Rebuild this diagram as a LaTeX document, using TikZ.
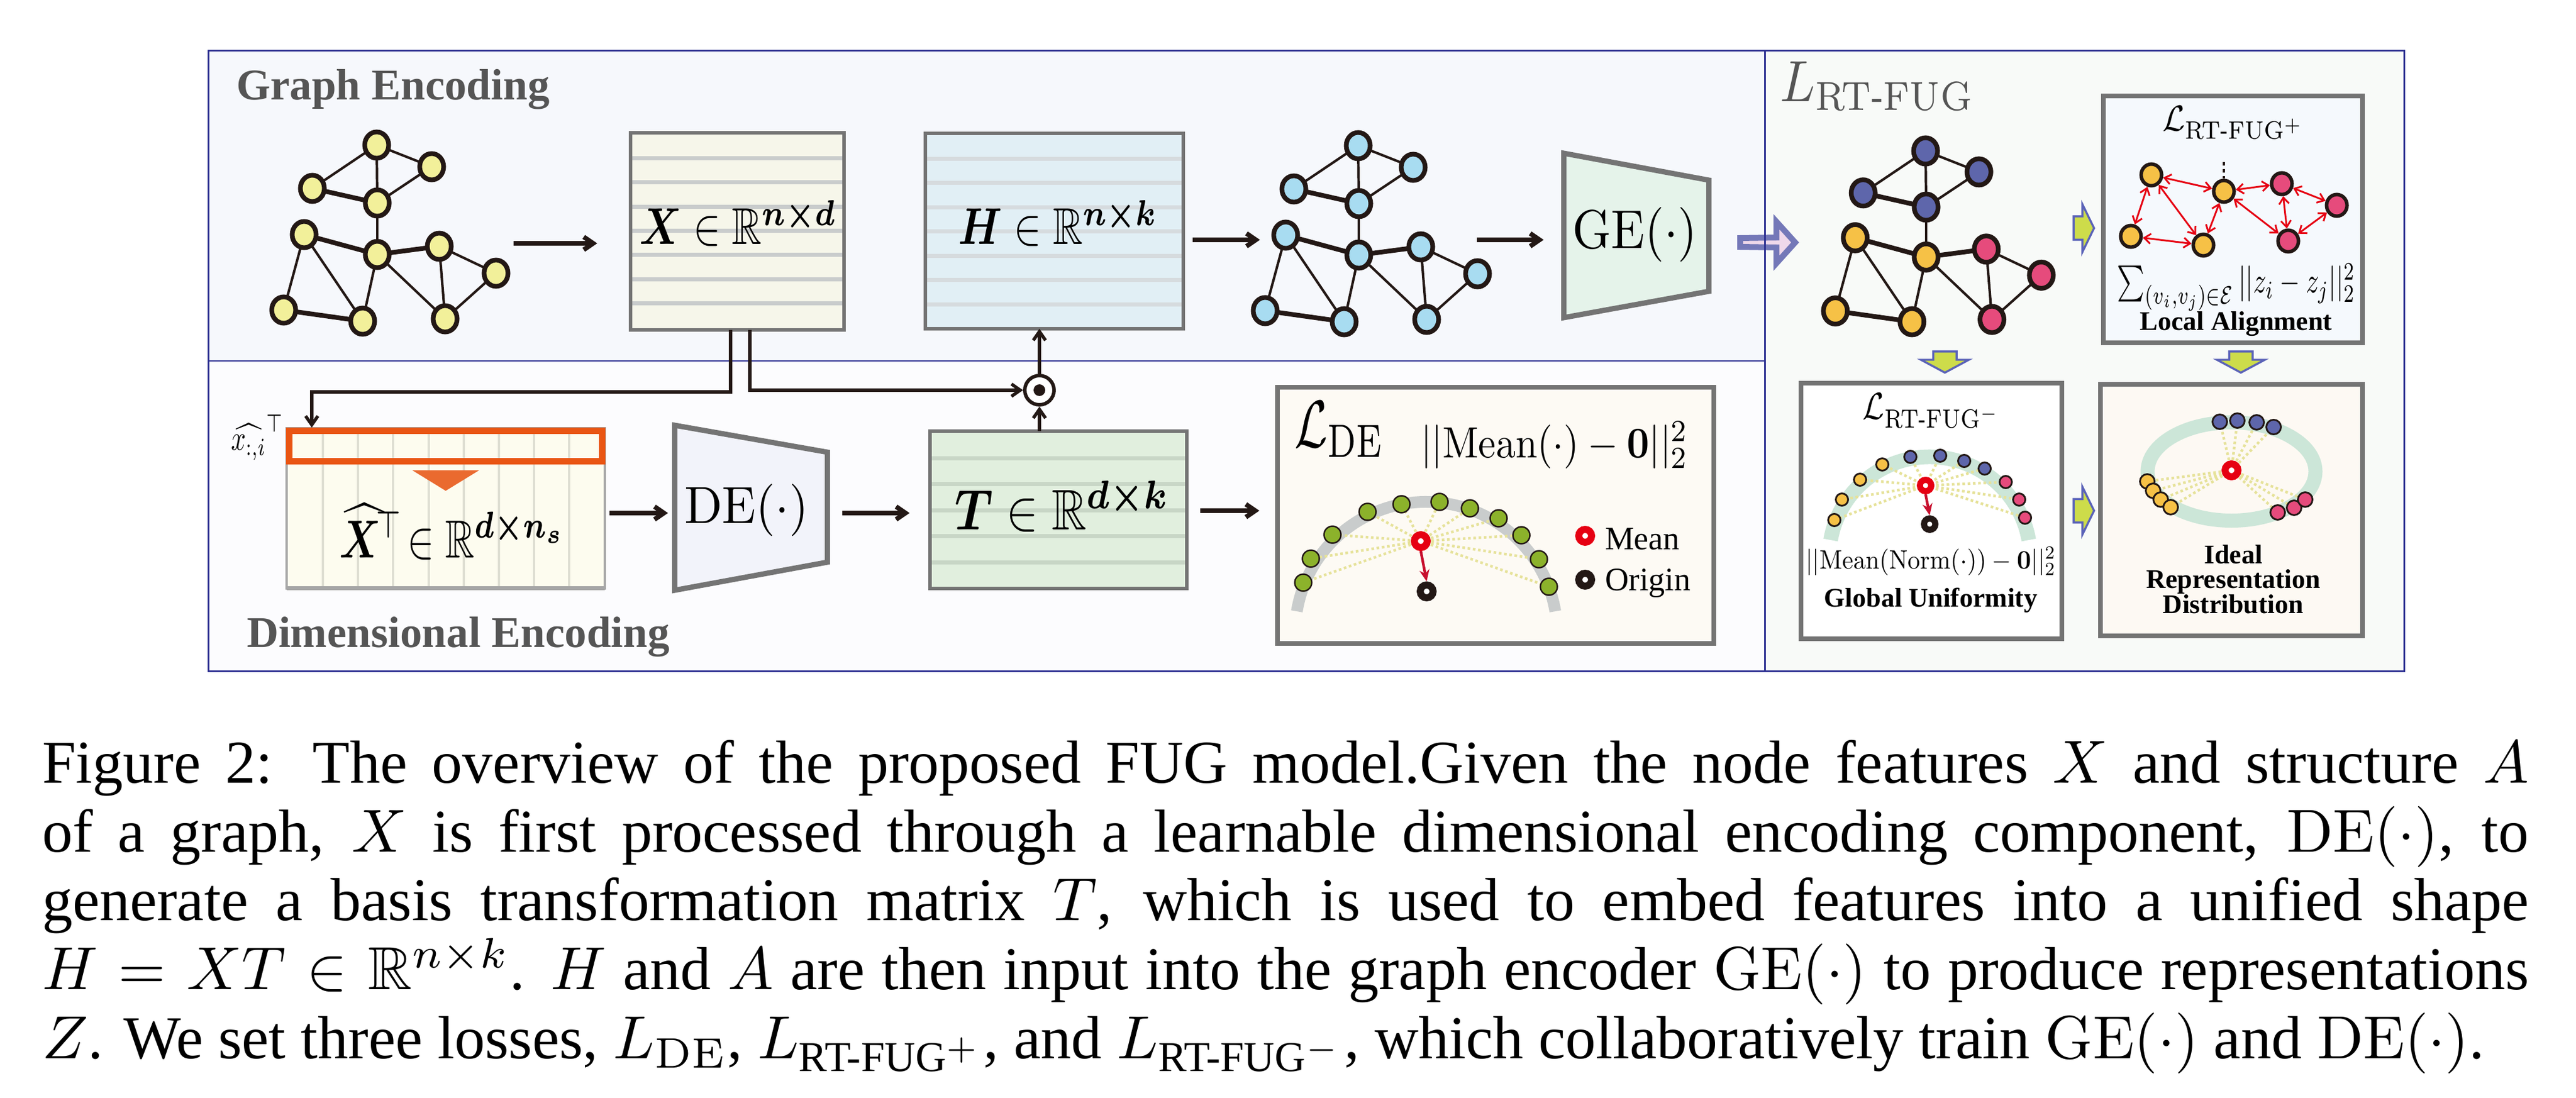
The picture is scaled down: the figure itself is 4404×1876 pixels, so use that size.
\RequirePackage{fix-cm}
\documentclass[tikz,border=0pt]{standalone}
\usepackage{amsmath,amssymb,bm}
\usepackage[no-math]{fontspec}
\setmainfont{Liberation Serif}
\usetikzlibrary{arrows.meta,shapes.geometric,calc}
\pgfdeclarelayer{panel}
\pgfdeclarelayer{edges}
\pgfsetlayers{panel,edges,main}
\definecolor{framebl}{HTML}{2E3192}
\definecolor{panelA}{HTML}{F6F8FC}
\definecolor{panelB}{HTML}{FCFCFE}
\definecolor{panelC}{HTML}{F8FAF8}
\definecolor{nodeblk}{HTML}{231815}
\definecolor{yel}{HTML}{F2F09A}
\definecolor{sky}{HTML}{A8DCF1}
\definecolor{gblue}{HTML}{5E66AB}
\definecolor{gorange}{HTML}{F6C146}
\definecolor{gpink}{HTML}{E64B7C}
\definecolor{boxgray}{HTML}{747474}
\definecolor{xcream}{HTML}{F6F6EA}
\definecolor{xstripe}{HTML}{C9CCCC}
\definecolor{hblue}{HTML}{E1EFF5}
\definecolor{hstripe}{HTML}{D6DBDE}
\definecolor{tgreen}{HTML}{E1EFDE}
\definecolor{tstripe}{HTML}{C8D6C6}
\definecolor{xhat}{HTML}{FDFCEF}
\definecolor{xhatstripe}{HTML}{DEDED2}
\definecolor{xhatedge}{HTML}{A6A6A6}
\definecolor{orangeX}{HTML}{E95513}
\definecolor{orangeT}{HTML}{EA6A2F}
\definecolor{gefill}{HTML}{E5F3EA}
\definecolor{defill}{HTML}{F2F3FA}
\definecolor{decream}{HTML}{FDFAF4}
\definecolor{arcgray}{HTML}{C9CCCC}
\definecolor{dotgreen}{HTML}{8CB22B}
\definecolor{meanred}{HTML}{E60012}
\definecolor{arrowred}{HTML}{C8102E}
\definecolor{ydash}{HTML}{E6E29A}
\definecolor{mint}{HTML}{CCE6D8}
\definecolor{localfill}{HTML}{F5F9FD}
\definecolor{idealfill}{HTML}{FDF9F3}
\definecolor{purpleA}{HTML}{7478B8}
\definecolor{pinkA}{HTML}{EFD8EA}
\definecolor{lime}{HTML}{CDDC4A}
\definecolor{limeedge}{HTML}{5B63B8}
\definecolor{titlegray}{HTML}{555555}
% math set at 10pt, then resized to the width and height measured on the reference
\newcommand\fitmath[3]{\resizebox{#1}{#2}{\fontsize{10}{12}\selectfont$#3$}}
\tikzset{
  gnode/.style={ellipse, draw=nodeblk, line width=0.8pt, minimum width=4.1pt, minimum height=4.5pt, inner sep=0pt},
  sgnode/.style={ellipse, draw=nodeblk, line width=0.6pt, minimum width=3.5pt, minimum height=3.7pt, inner sep=0pt},
  thinedge/.style={draw=nodeblk, line width=0.42pt},
  thickedge/.style={draw=nodeblk, line width=0.8pt},
  mainarrow/.style={draw=nodeblk, line width=0.8pt, -{Straight Barb[length=1.6pt,width=2.2pt]}},
  flowline/.style={draw=nodeblk, line width=0.55pt},
  flowarrow/.style={flowline, -{Straight Barb[length=1.5pt,width=2.1pt]}},
  redarrow/.style={draw=arrowred, line width=0.45pt, -{Stealth[length=2pt,width=1.7pt]}},
  lalign/.style={draw=meanred, line width=0.3pt, {Straight Barb[length=1.1pt,width=1.7pt]}-{Straight Barb[length=1.1pt,width=1.7pt]}},
  dedot/.style={circle, draw=nodeblk, line width=0.25pt, minimum size=2.9pt, inner sep=0pt, fill=dotgreen},
  gudot/.style={circle, draw=nodeblk, line width=0.3pt, minimum size=2.1pt, inner sep=0pt, fill=#1},
  iddot/.style={circle, draw=nodeblk, line width=0.3pt, minimum size=2.5pt, inner sep=0pt, fill=#1},
  ring/.style={circle, draw=#1, fill=white, line width=1.2pt, minimum size=2.2pt, inner sep=0pt},
  smallring/.style={circle, draw=#1, fill=white, line width=1.05pt, minimum size=1.95pt, inner sep=0pt},
  ydashed/.style={draw=ydash, line width=0.45pt, dash pattern=on 0.45pt off 0.45pt},
  lossbox/.style={rectangle, draw=boxgray, line width=0.8pt, inner sep=0pt},
  matborder/.style={draw=boxgray, line width=0.65pt},
  limearrow/.style={fill=lime, draw=limeedge, line width=0.35pt, line join=miter},
  paneltitle/.style={font=\fontsize{7.5}{9}\selectfont\bfseries, text=titlegray, inner sep=0pt},
  smallbold/.style={font=\fontsize{4.6}{5}\selectfont\bfseries, inner sep=0pt},
  mtext/.style={inner sep=0pt, anchor=base},
}
\newcommand\fuggraph[5]{%
  \foreach \cc [count=\ci] in {#5}{\xglobal\colorlet{fugc\ci}{\cc}}%
  \begin{scope}[shift={(#2,#3)},scale=#4]
    \node[gnode,fill=fugc1] (#1-1) at (0,0) {};
    \node[gnode,fill=fugc2] (#1-2) at (94,37) {};
    \node[gnode,fill=fugc3] (#1-3) at (-110,74) {};
    \node[gnode,fill=fugc4] (#1-4) at (1,99) {};
    \node[gnode,fill=fugc5] (#1-5) at (-124,153) {};
    \node[gnode,fill=fugc6] (#1-6) at (1,187) {};
    \node[gnode,fill=fugc7] (#1-7) at (107,173) {};
    \node[gnode,fill=fugc8] (#1-8) at (204,219) {};
    \node[gnode,fill=fugc9] (#1-9) at (-159,282) {};
    \node[gnode,fill=fugc10] (#1-10) at (-24,301) {};
    \node[gnode,fill=fugc11] (#1-11) at (117,297) {};
  \end{scope}
  \begin{pgfonlayer}{edges}
    \foreach \ea/\eb in {1/2,1/3,1/4,2/4,4/6,7/8,5/9,5/10,6/10,6/11,7/11,8/11}
      \draw[thinedge] (#1-\ea.center) -- (#1-\eb.center);
    \foreach \ea/\eb in {3/4,5/6,6/7,9/10}
      \draw[thickedge] (#1-\ea.center) -- (#1-\eb.center);
  \end{pgfonlayer}}
\begin{document}
\begin{tikzpicture}[x=0.1pt,y=-0.1pt]
\useasboundingbox (0,0) rectangle (4404,1876);
% ---------------- panels
\begin{pgfonlayer}{panel}
  \fill[panelA] (356,87) rectangle (3017,617);
  \fill[panelB] (356,617) rectangle (3017,1147);
  \fill[panelC] (3017,87) rectangle (4110,1147);
  \draw[framebl, line width=0.3pt] (356,617) -- (3017,617);
  \draw[framebl, line width=0.3pt] (356,87) rectangle (4110,1147);
  \draw[draw=purpleA, fill=pinkA, line width=1pt, line join=miter]
    (2975,407) -- (3037,406) -- (3037,379) -- (3069,414.5) -- (3037,450) -- (3037,423) -- (2975,422) -- cycle;
  \draw[framebl, line width=0.3pt] (3017,87) -- (3017,1147);
  \node[lossbox, fill=decream, minimum width=74.6pt, minimum height=43.8pt, anchor=north west] (LDE) at (2180,658) {};
  \node[lossbox, fill=localfill, minimum width=44.3pt, minimum height=42.2pt, anchor=north west] (LOC) at (3592,160) {};
  \node[lossbox, fill=white, minimum width=44.6pt, minimum height=43.7pt, anchor=north west] (GLO) at (3075,651) {};
  \node[lossbox, fill=idealfill, minimum width=44.8pt, minimum height=43.0pt, anchor=north west] (IDE) at (3587,653) {};
\end{pgfonlayer}
\node[paneltitle, anchor=base west] (tGE) at (402,171) {Graph Encoding};
\node[paneltitle, anchor=base west] (tDE) at (420,1106) {Dimensional Encoding};
% ---------------- graphs
\fuggraph{yg}{644}{248}{1}{yel,yel,yel,yel,yel,yel,yel,yel,yel,yel,yel}
\fuggraph{bg}{2322}{249}{1}{sky,sky,sky,sky,sky,sky,sky,sky,sky,sky,sky}
\fuggraph{rg}{3292}{258}{0.97}{gblue,gblue,gblue,gblue,gorange,gorange,gpink,gpink,gorange,gorange,gpink}
% ---------------- X box
\node[fill=xcream, minimum width=36.1pt, minimum height=33.3pt, inner sep=0pt] (X) at (1260.5,395.5) {};
\foreach \k in {1,...,7} \draw[draw=xstripe, line width=0.7pt] (1081,{229+41.4*\k}) -- (1440,{229+41.4*\k});
\draw[matborder] (X.north west) rectangle (X.south east);
\node[mtext] (Xt) at (1262,418) {\fitmath{33.7pt}{7.5pt}{\bm{X}\in\mathbb{R}^{\bm{n\times d}}}};
% ---------------- H box
\node[fill=hblue, minimum width=43.7pt, minimum height=33.0pt, inner sep=0pt] (H) at (1802.5,395) {};
\foreach \k in {1,...,7} \draw[draw=hstripe, line width=0.7pt] (1584,{230+41.5*\k}) -- (2021,{230+41.5*\k});
\draw[matborder] (H.north west) rectangle (H.south east);
\node[mtext] (Ht) at (1809,418) {\fitmath{34.1pt}{7.5pt}{\bm{H}\in\mathbb{R}^{\bm{n\times k}}}};
% ---------------- GE
\draw[fill=gefill, draw=boxgray, line width=0.9pt, line join=miter] (2673.5,262) -- (2921.5,308) -- (2921.5,498) -- (2673.5,543) -- cycle;
\node[mtext] (GE) at (2795,425) {\fitmath{21.3pt}{7pt}{\mathrm{GE}(\cdot)}};
% ---------------- X hat box
\node[fill=xhat, minimum width=54.0pt, minimum height=27.0pt, inner sep=0pt] (Xh) at (762,869) {};
\foreach \k in {0,...,7} \draw[draw=xhatstripe, line width=0.4pt] ({552+60.2*\k},733) -- ({552+60.2*\k},1004);
\draw[draw=xhatedge, line width=0.45pt] (Xh.north west) rectangle (Xh.south east);
\draw[draw=xhatedge, line width=0.7pt] (Xh.south west) -- (Xh.south east);
\node[draw=orangeX, line width=1.1pt, minimum width=53.5pt, minimum height=5.2pt, inner sep=0pt, anchor=north west] (xrow) at (489,731) {};
\fill[orangeT] (705,804) -- (819,804) -- (762,839) -- cycle;
\node[mtext] (Xht) at (773,953) {\fitmath{38.5pt}{9.2pt}{\widehat{\bm{X}}^{\!\top}\!\in\mathbb{R}^{\bm{d\times n_s}}}};
\node[inner sep=0pt, anchor=east] (xlab) at (487,748) {\resizebox*{9pt}{7.7pt}{\fontsize{10}{12}\selectfont$\widehat{x_{:,i}}^{\top}$}};
% ---------------- DE
\draw[fill=defill, draw=boxgray, line width=0.9pt, line join=miter] (1153.5,727) -- (1414.5,773) -- (1414.5,961) -- (1153.5,1009) -- cycle;
\node[mtext] (DE) at (1276,894) {\fitmath{21.2pt}{6.7pt}{\mathrm{DE}(\cdot)}};
% ---------------- T box
\node[fill=tgreen, minimum width=43.5pt, minimum height=26.5pt, inner sep=0pt] (T) at (1809.5,871.5) {};
\foreach \k in {1,...,5} \draw[draw=tstripe, line width=0.7pt] (1592,{738.5+44.5*\k}) -- (2027,{738.5+44.5*\k});
\draw[matborder] (T.north west) rectangle (T.south east);
\node[mtext] (Tt) at (1816,905) {\fitmath{36.7pt}{8.3pt}{\bm{T}\in\mathbb{R}^{\bm{d\times k}}}};
% ---------------- odot and flow lines
\node[circle, draw=nodeblk, fill=white, line width=0.6pt, minimum size=5pt, inner sep=0pt] (odot) at (1777,667) {};
\fill[nodeblk] (odot.center) circle[radius=10];
\coordinate (lcorner) at (533,670);
\draw[flowarrow] ([xshift=-1.15pt]X.south) |- (lcorner) -- (lcorner |- xrow.north);
\draw[flowarrow] ([xshift=2.15pt]X.south) |- (odot.west);
\draw[flowarrow] (odot.north) -- (odot.north |- H.south);
\draw[flowarrow] (odot.south |- T.north) -- (odot.south);
% ---------------- main arrows
\draw[mainarrow] ($(X.west)+(-200,20.5)$) -- ++(143,0);
\draw[mainarrow] ($(H.east)+(16,15)$) -- ++(115,0);
\draw[mainarrow] ($(GE.base)+(-270,-15)$) -- ++(114,0);
\draw[mainarrow] ($(Xh.east)+(8,8)$) -- ++(100,0);
\draw[mainarrow] ($(T.west)+(-150,5.5)$) -- ++(115,0);
\draw[mainarrow] ($(T.east)+(23,1.5)$) -- ++(101,0);
% ---------------- L_DE box content
\node[inner sep=0pt, anchor=base west] (LDEt) at (2211,764) {\fitmath{15.4pt}{7.8pt}{\mathcal{L}_{\mathrm{DE}}}};
\node[mtext] (LDEf) at (2658,782) {\fitmath{45.8pt}{6.1pt}{||\mathrm{Mean}(\cdot)-\mathbf{0}||_2^2}};
\node[ring=meanred] (dm) at (2429,925) {};
\node[ring=nodeblk] (do) at (2439,1011) {};
\foreach \p [count=\i] in {(2228,996),(2241,955),(2278,914),(2338,875),(2396,862),(2461,858),(2513,869),(2562,886),(2601,915),(2631,956),(2648,1003)}
  \node[dedot] (ld\i) at \p {};
\begin{pgfonlayer}{edges}
  \draw[arcgray, line width=2pt] ([shift={(189.5:224)}]2438,1082) arc[start angle=189.5, end angle=350.5, radius=224];
  \foreach \i in {1,...,11} \draw[ydashed] (dm.center) -- (ld\i.center);
\end{pgfonlayer}
\draw[redarrow] (dm.south) -- (do.north);
\node[ring=meanred] (lm) at (2710,916) {};
\node[ring=nodeblk] (lo) at (2710,991) {};
\node[font=\fontsize{5.6}{6}\selectfont, inner sep=0pt, anchor=base west] (lmt) at (2742,939) {Mean};
\node[font=\fontsize{5.6}{6}\selectfont, inner sep=0pt, anchor=base west] (lot) at (2742,1009) {Origin};
% ---------------- right panel title
\node[text=titlegray, inner sep=0pt, anchor=base west] (LRT) at (3041,174) {\fitmath{33.3pt}{6.8pt}{L_{\mathrm{RT}\text{-}\mathrm{FUG}}}};
% ---------------- Local alignment
\node[mtext] (LPt) at (3818,224) {\fitmath{24.2pt}{4.2pt}{\mathcal{L}_{\mathrm{RT}\text{-}\mathrm{FUG}^{+}}}};
\node[sgnode, fill=gorange] (a1) at (3678,299) {};
\node[sgnode, fill=gorange] (a2) at (3802,327) {};
\node[sgnode, fill=gpink] (a3) at (3901,314) {};
\node[sgnode, fill=gpink] (a4) at (3995,351) {};
\node[sgnode, fill=gorange] (a5) at (3643,404) {};
\node[sgnode, fill=gorange] (a6) at (3767,419) {};
\node[sgnode, fill=gpink] (a7) at (3912,412) {};
\foreach \ea/\eb in {a1/a2,a1/a5,a1/a6,a2/a6,a2/a3,a2/a7,a3/a4,a3/a7,a4/a7,a5/a6}
  \draw[lalign] (\ea) -- (\eb);
\coordinate (dotstop) at (3802,277);
\draw[nodeblk, line width=0.35pt, dash pattern=on 0.6pt off 0.6pt] (dotstop) -- (a2.north);
\node[mtext] (LPf) at (3823,501) {\fitmath{40.7pt}{5pt}{\sum_{(v_i,v_j)\in\mathcal{E}}||z_i-z_j||_2^2}};
\node[smallbold, anchor=base] (LPl) at (3823,565) {Local Alignment};
% ---------------- Global uniformity
\node[mtext] (LMt) at (3302,717) {\fitmath{23.5pt}{4.4pt}{\mathcal{L}_{\mathrm{RT}\text{-}\mathrm{FUG}^{-}}}};
\node[smallring=meanred] (gm) at (3292,830) {};
\node[smallring=nodeblk] (go) at (3299,896) {};
\foreach \p/\c [count=\i] in {(3136,889)/gorange,(3149,854)/gorange,(3180,820)/gorange,(3218,794)/gorange,(3266,781)/gblue,(3317,779)/gblue,(3358,788)/gblue,(3393,801)/gblue,(3429,824)/gpink,(3452,854)/gpink,(3462,885)/gpink}
  \node[gudot=\c] (gd\i) at \p {};
\begin{pgfonlayer}{edges}
  \draw[mint, line width=2.5pt] ([shift={(190:172)}]3299,953) arc[start angle=190, end angle=350, radius=172];
  \foreach \i in {1,...,11} \draw[ydashed] (gm.center) -- (gd\i.center);
\end{pgfonlayer}
\draw[redarrow] (gm.south) -- (go.north);
\node[mtext] (LMf) at (3301,972) {\fitmath{42.8pt}{3.7pt}{||\mathrm{Mean}(\mathrm{Norm}(\cdot))-\mathbf{0}||_2^2}};
\node[smallbold, anchor=base] (LMl) at (3301,1037) {Global Uniformity};
% ---------------- Ideal distribution
\node[ring=meanred] (im) at (3815,804) {};
\foreach \p/\c [count=\i] in {(3795,721)/gblue,(3825,719)/gblue,(3858,722)/gblue,(3887,730)/gblue,(3671,823)/gorange,(3681,839)/gorange,(3694,854)/gorange,(3711,867)/gorange,(3894,876)/gpink,(3922,868)/gpink,(3941,854)/gpink}
  \node[iddot=\c] (id\i) at \p {};
\begin{pgfonlayer}{edges}
  \draw[mint, line width=2.4pt] (3815,806) ellipse[x radius=143.5, y radius=84];
  \foreach \i in {1,...,11} \draw[ydashed] (im.center) -- (id\i.center);
\end{pgfonlayer}
\node[smallbold, anchor=base] (IDl1) at (3818,963) {Ideal};
\node[smallbold, anchor=base] (IDl2) at (3818,1005) {Representation};
\node[smallbold, anchor=base] (IDl3) at (3818,1048) {Distribution};
% ---------------- lime arrows
\draw[limearrow] (3545,370) -- (3560,370) -- (3560,349) -- (3580,390) -- (3560,431) -- (3560,410) -- (3545,410) -- cycle;
\draw[limearrow] (3545,853) -- (3560,853) -- (3560,832) -- (3580,873) -- (3560,914) -- (3560,893) -- (3545,893) -- cycle;
\draw[limearrow] (3305,601) -- (3345,601) -- (3345,615) -- (3366,615) -- (3325,637) -- (3284,615) -- (3305,615) -- cycle;
\draw[limearrow] (3811,601) -- (3851,601) -- (3851,615) -- (3872,615) -- (3831,637) -- (3790,615) -- (3811,615) -- cycle;
% ---------------- caption
\node[anchor=base west, text width=425.2pt, align=justify, inner sep=0pt, font=\fontsize{10.4}{11.8}\selectfont] (cap) at (70,1338)
 {\hyphenpenalty=10000\parfillskip=0pt Figure 2: The overview of the proposed FUG model.Given the node features $X$ and structure $A$\linebreak
  of a graph, $X$ is first processed through a learnable dimensional encoding component, $\mathrm{DE}(\cdot)$, to\linebreak
  generate a basis transformation matrix $T$, which is used to embed features into a unified shape\linebreak
  $H=XT\in\mathbb{R}^{n\times k}$. $H$ and $A$ are then input into the graph encoder $\mathrm{GE}(\cdot)$ to produce representations\linebreak
  $Z$. We set three losses, $L_{\mathrm{DE}}$, $L_{\text{RT-FUG}^{+}}$, and $L_{\text{RT-FUG}^{-}}$, which collaboratively train $\mathrm{GE}(\cdot)$ and $\mathrm{DE}(\cdot)$.};
\end{tikzpicture}
\end{document}
